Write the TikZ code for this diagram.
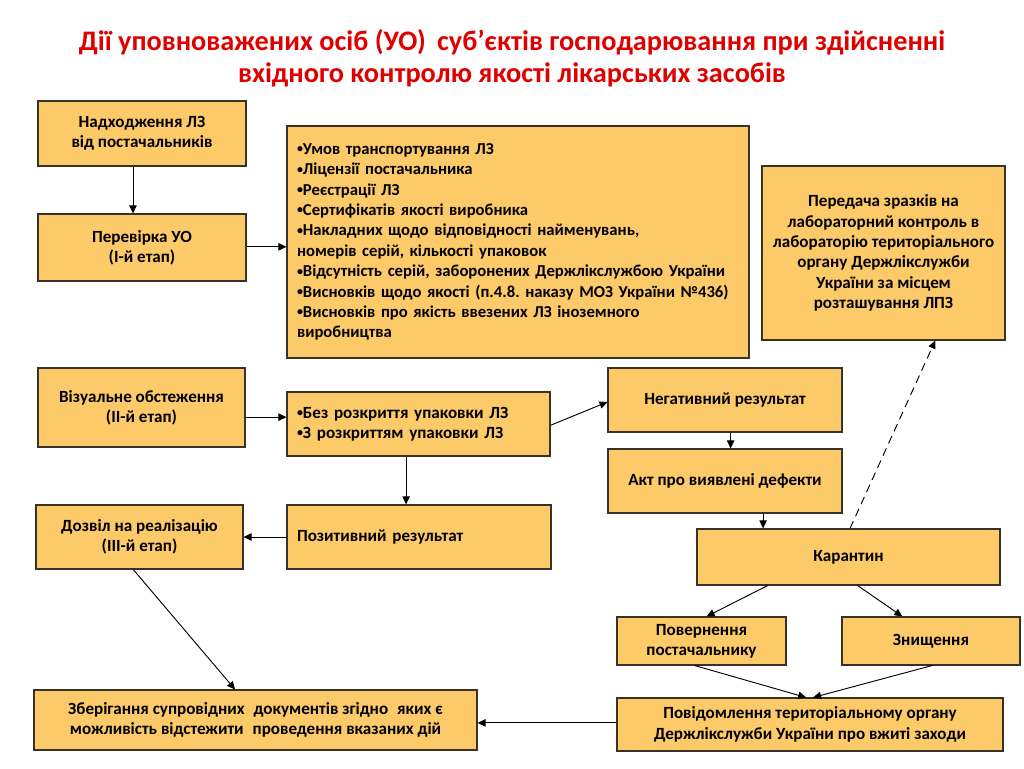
\documentclass[tikz,border=0pt]{standalone}
\usepackage{fontspec}
\setmainfont{Carlito}
\usetikzlibrary{arrows.meta,calc}
\definecolor{boxfill}{HTML}{FDCA69}
\definecolor{boxline}{HTML}{3A3226}
\definecolor{titlered}{HTML}{E00000}
\newcommand{\bul}{\raisebox{0.1em}{\fontsize{9}{9}\selectfont•}}
\frenchspacing
\begin{document}
\begin{tikzpicture}[x=0.75pt,y=-0.75pt,
  box/.style={draw=boxline, fill=boxfill, line width=0.8pt, inner sep=0pt,
    font=\fontsize{12.8}{15.3}\selectfont\bfseries, align=center},
  small/.style={font=\fontsize{12.5}{15.3}\selectfont\bfseries},
  wh/.style 2 args={minimum width=#1*0.75pt, minimum height=#2*0.75pt},
  arr/.style={-{Triangle[length=6pt,width=5.5pt]}, line width=0.7pt, black},
  dasharr/.style={arr, dash pattern=on 6pt off 4pt}]
\useasboundingbox (0,0) rectangle (1024,768);

% title
\node[text=titlered, font=\fontsize{21.2}{24}\selectfont\bfseries, align=center] (title) at (512,58)
  {Дії уповноважених осіб (УО)\hspace{0.4em}суб’єктів господарювання при здійсненні\\
   вхідного контролю якості лікарських засобів};

% boxes
\node[box, wh={208}{65}] (n1) at (142,133.5) {Надходження ЛЗ\\від постачальників};
\node[box, wh={208}{67}] (n2) at (142,247.5) {Перевірка УО\\(І-й етап)};
\node[box, small, wh={462}{232}, align=left, text width=331.5pt] (n3) at (518,242)
  {\bul Умов транспортування ЛЗ\\
   \bul Ліцензії постачальника\\
   \bul Реєстрації ЛЗ\\
   \bul Сертифікатів якості виробника\\
   \bul Накладних щодо відповідності найменувань,\\
   номерів серій, кількості упаковок\\
   \bul Відсутність серій, заборонених Держлікслужбою України\\
   \bul Висновків щодо якості (п.4.8. наказу МОЗ України №436)\\
   \bul Висновків про якість ввезених ЛЗ іноземного\\
   виробництва};
\node[box, wh={243}{174}] (n4) at (883.5,253)
  {Передача зразків на\\лабораторний контроль в\\лабораторію територіального\\органу Держлікслужби\\України за місцем\\розташування ЛПЗ};
\node[box, wh={207}{79}] (n5) at (141.5,407.5) {Візуальне обстеження\\(ІІ-й етап)};
\node[box, wh={263}{64}, align=left, text width=182.25pt] (n6) at (418.5,424)
  {\bul Без розкриття упаковки ЛЗ\\\bul З розкриттям упаковки ЛЗ};
\node[box, wh={234}{64}] (n7) at (725,400) {Негативний результат};
\node[box, wh={234}{64}] (n8) at (725,481) {Акт про виявлені дефекти};
\node[box, wh={207}{64}] (n9) at (139.5,537) {Дозвіл на реалізацію\\(ІІІ-й етап)};
\node[box, wh={264}{64}, align=left, text width=183pt] (n10) at (419,537) {Позитивний результат};
\node[box, wh={303}{56}] (n11) at (848.5,557) {Карантин};
\node[box, wh={169}{48}] (n12) at (701.5,641) {Повернення\\постачальнику};
\node[box, wh={178}{48}] (n13) at (931,641) {Знищення};
\node[box, wh={386}{53}] (n14) at (810,724.5) {Повідомлення територіальному органу\\Держлікслужби України про вжиті заходи};
\node[box, wh={443}{60}] (n15) at (255.5,720) {Зберігання супровідних\hspace{0.3em} документів згідно\hspace{0.3em} яких є\\можливість відстежити\hspace{0.3em} проведення вказаних дій};

% connectors
\coordinate (a1) at ($(n1.south west)!0.457!(n1.south east)$);
\draw[arr] (a1) -- (a1 |- n2.north);
\draw[arr] ($(n2.north east)!0.49!(n2.south east)$) coordinate (a2) -- (a2 -| n3.west);
\draw[arr] ($(n5.north east)!0.62!(n5.south east)$) coordinate (a5) -- (a5 -| n6.west);
\draw[arr] ($(n6.north east)!0.52!(n6.south east)$) -- ($(n7.north west)!0.53!(n7.south west)$);
\coordinate (a6) at ($(n6.south west)!0.453!(n6.south east)$);
\draw[arr] (a6) -- (a6 |- n10.north);
\draw[arr] (n10.west) -- (n10.west -| n9.east);
\coordinate (a7) at ($(n7.south west)!0.524!(n7.south east)$);
\draw[arr] (a7) -- (a7 |- n8.north);
\coordinate (a8) at ($(n8.south west)!0.662!(n8.south east)$);
\draw[arr] (a8) -- (a8 |- n11.north);
\draw[dasharr] ($(n11.north west)!0.505!(n11.north east)$) -- ($(n4.south west)!0.712!(n4.south east)$);
\draw[arr] ($(n11.south west)!0.234!(n11.south east)$) -- ($(n12.north west)!0.53!(n12.north east)$);
\draw[arr] ($(n11.south west)!0.53!(n11.south east)$) -- ($(n13.north west)!0.34!(n13.north east)$);
\draw[arr] ($(n12.south west)!0.46!(n12.south east)$) -- ($(n14.north west)!0.49!(n14.north east)$);
\draw[arr] ($(n13.south west)!0.506!(n13.south east)$) -- ($(n14.north west)!0.508!(n14.north east)$);
\draw[arr] ($(n9.south west)!0.47!(n9.south east)$) -- ($(n15.north west)!0.454!(n15.north east)$);
\draw[arr] ($(n14.north west)!0.47!(n14.south west)$) coordinate (a14) -- (a14 -| n15.east);
\end{tikzpicture}
\end{document}
